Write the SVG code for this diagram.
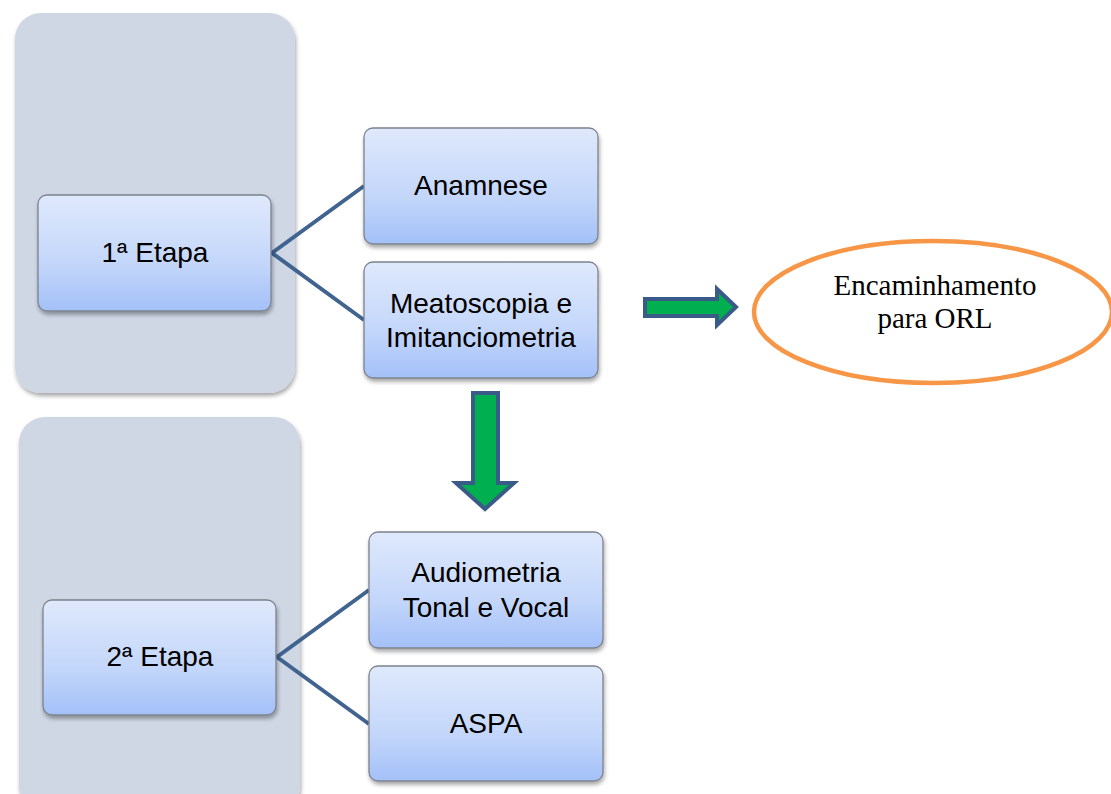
<svg xmlns="http://www.w3.org/2000/svg" width="1111" height="794" viewBox="0 0 1111 794">
<defs>
<linearGradient id="bg" x1="0" y1="0" x2="0" y2="1">
<stop offset="0" stop-color="#dfe9fc"/>
<stop offset="0.6" stop-color="#c3d6fa"/>
<stop offset="1" stop-color="#a3c0f8"/>
</linearGradient>
<filter id="sh" x="-10%" y="-10%" width="125%" height="130%">
<feGaussianBlur in="SourceAlpha" stdDeviation="2"/>
<feOffset dx="1" dy="3" result="b"/>
<feComponentTransfer><feFuncA type="linear" slope="0.35"/></feComponentTransfer>
<feMerge><feMergeNode/><feMergeNode in="SourceGraphic"/></feMerge>
</filter>
</defs>
<style>
.panel{fill:#cfd7e5;}
.box{fill:url(#bg);stroke:#7d828c;stroke-width:1.3;}
.t{font-family:"Liberation Sans",Arial,sans-serif;font-size:28px;fill:#000;text-anchor:middle;}
.conn{stroke:#41638f;stroke-width:4;fill:none;}
.arr{fill:#00b050;stroke:#3a5a88;stroke-width:4;stroke-linejoin:miter;}
.s{font-family:"Liberation Serif","Times New Roman",serif;font-size:29px;fill:#000;text-anchor:middle;}
</style>
<g id="panel1"><rect class="panel" x="15" y="13" width="280" height="380" rx="26" filter="url(#sh)"/></g>
<g id="panel2"><rect class="panel" x="19" y="417" width="281" height="395" rx="26" filter="url(#sh)"/></g>
<g id="connectors">
<polyline class="conn" points="364,186 272,253 364,320"/>
<polyline class="conn" points="369,590 277,657 369,724"/>
<polygon class="arr" points="645,299 717,299 717,289 736,307 717,325 717,316 645,316"/>
<polygon class="arr" points="473,393 498,393 498,483 514,483 485,509 456,483 473,483"/>
</g>
<g id="etapa1"><rect class="box" x="38" y="195" width="233" height="116" rx="9" filter="url(#sh)"/><text class="t" x="155" y="262">1ª Etapa</text></g>
<g id="anamnese"><rect class="box" x="364" y="128" width="234" height="116" rx="9" filter="url(#sh)"/><text class="t" x="481" y="195">Anamnese</text></g>
<g id="meatoscopia"><rect class="box" x="364" y="262" width="234" height="116" rx="9" filter="url(#sh)"/><text class="t" x="481" y="313">Meatoscopia e</text><text class="t" x="481" y="347">Imitanciometria</text></g>
<g id="encaminhamento"><ellipse cx="933" cy="312" rx="179" ry="71" fill="#fff" stroke="#f79646" stroke-width="4.5"/><text class="s" x="935" y="295">Encaminhamento</text><text class="s" x="935" y="328">para ORL</text></g>
<g id="etapa2"><rect class="box" x="43" y="600" width="233" height="115" rx="9" filter="url(#sh)"/><text class="t" x="160" y="666">2ª Etapa</text></g>
<g id="audiometria"><rect class="box" x="369" y="532" width="234" height="116" rx="9" filter="url(#sh)"/><text class="t" x="486" y="582">Audiometria</text><text class="t" x="486" y="617">Tonal e Vocal</text></g>
<g id="aspa"><rect class="box" x="369" y="666" width="234" height="115" rx="9" filter="url(#sh)"/><text class="t" x="486" y="733">ASPA</text></g>
</svg>
